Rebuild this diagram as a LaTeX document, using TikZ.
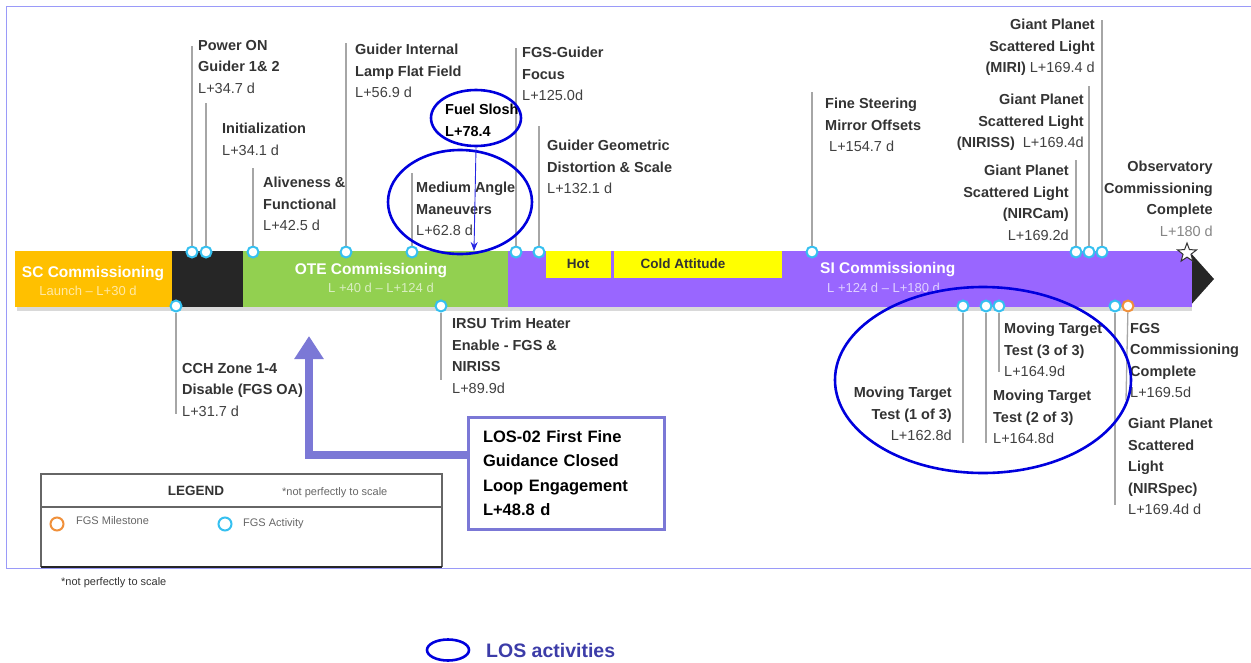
\documentclass[tikz,border=0pt]{standalone}
\usepackage{fontspec}
\setmainfont{Liberation Sans}
\usetikzlibrary{arrows.meta,shapes.geometric}
\definecolor{scyellow}{HTML}{FFC000}
\definecolor{barblack}{HTML}{262626}
\definecolor{otegreen}{HTML}{92D050}
\definecolor{sipurple}{HTML}{9966FF}
\definecolor{hotyellow}{HTML}{FFFF00}
\definecolor{cyanc}{HTML}{35C0F0}
\definecolor{orangec}{HTML}{F0903A}
\definecolor{losblue}{HTML}{0000DD}
\definecolor{boxpurple}{HTML}{7B78D6}
\definecolor{framec}{HTML}{9A9AF8}
\definecolor{titlegray}{HTML}{333333}
\definecolor{valgray}{HTML}{404040}
\definecolor{lightval}{HTML}{858585}
\definecolor{legtext}{HTML}{666666}
\definecolor{losword}{HTML}{3C3CA8}
\newcommand{\lv}[1]{{\mdseries\color{valgray}#1}}
\begin{document}
\begin{tikzpicture}[x=1pt,y=-1pt,
  lbl/.style={inner sep=0pt, font=\fontsize{14.5}{21.5}\selectfont\bfseries, text=titlegray, align=left, anchor=north west},
  lblr/.style={lbl, align=right, anchor=north east},
  act/.style={circle, draw=cyanc, line width=2pt, fill=white, minimum size=11pt, inner sep=0pt},
  mile/.style={circle, draw=orangec, line width=2pt, fill=white, minimum size=11pt, inner sep=0pt},
  vline/.style={draw=black!35, line width=1.3pt},
  bartitle/.style={inner sep=0pt, font=\fontsize{15.5}{18}\selectfont\bfseries, text=white},
  barsub/.style={inner sep=0pt, font=\fontsize{13}{16}\selectfont},
  phase/.style={inner sep=0pt, font=\fontsize{13.5}{16}\selectfont\bfseries, text=titlegray},
  losring/.style={draw=losblue, line width=2.6pt, ellipse, inner sep=0pt},
  legsmall/.style={inner sep=0pt, font=\fontsize{11}{13}\selectfont, text=legtext, anchor=north west}
]
\useasboundingbox (0,0) rectangle (1251,662);
% frame
\draw[framec, line width=1pt] (1251,6) -- (6,6) -- (6,568) -- (1251,568);

% bar shadow
\fill[black!15] (17,307) rectangle (1192,311);
% bar
\fill[scyellow] (15,251) rectangle (172,307);
\fill[barblack] (172,251) rectangle (243,307);
\fill[otegreen] (243,251) rectangle (508,307);
\fill[barblack] (1189,251) -- (1214,279) -- (1189,307) -- cycle;
\fill[sipurple] (508,251) rectangle (1192,307);
\fill[hotyellow] (546,251) rectangle (611,278);
\fill[hotyellow] (614,251) rectangle (782,278);

\node[phase] (hot) at (578,264) {Hot};
\node[phase] (cold) at (683,264) {Cold Attitude};

\node[bartitle, anchor=north] (sct) at (93,266) {SC Commissioning};
\node[barsub, anchor=north, text=scyellow!35!white] (scs) at (88,286) {Launch – L+30 d};
\node[bartitle, anchor=north] (otet) at (371,263) {OTE Commissioning};
\node[barsub, anchor=north, text=otegreen!35!white] (otes) at (381,283) {L +40 d – L+124 d};
\node[bartitle, anchor=north west] (sit) at (820,262) {SI Commissioning};
\node[barsub, anchor=north west, text=sipurple!30!white] (sis) at (827,283) {L +124 d – L+180 d};

\node[star, star points=5, star point ratio=2.4, draw=black!80, line width=1pt, fill=white, minimum size=20pt, inner sep=0pt] (obsstar) at (1187,253) {};

% top markers
\foreach \n/\x/\e in {a/192/46, b/206/103, c/253/168, d/346/43, e/412/173, f/516/48, g/539/126, h/812/92, i/1076/160, j/1089/86, k/1102/20}{
  \node[act] (t\n) at (\x,252) {};
  \coordinate (t\n e) at (\x,\e);
  \draw[vline] (t\n) -- (t\n e);
}
% bottom markers
\foreach \n/\x/\e in {a/176/414, b/441/380, c/963/443, d/986/443, e/999/372, f/1115/505}{
  \node[act] (b\n) at (\x,306) {};
  \coordinate (b\n e) at (\x,\e);
  \draw[vline] (b\n) -- (b\n e);
}
\node[mile] (bg) at (1128,306) {};
\coordinate (bge) at (1126,400);
\draw[vline] (bg) -- (bge);

% top labels
\node[lbl] (l1) at (198,40) {Power ON\\Guider 1\& 2\\\lv{L+34.7 d}};
\node[lbl] (l2) at (222,123) {Initialization\\\lv{L+34.1 d}};
\node[lbl] (l3) at (263,177) {Aliveness \&\\Functional\\\lv{L+42.5 d}};
\node[lbl] (l4) at (355,44) {Guider Internal\\Lamp Flat Field\\\lv{L+56.9 d}};
\node[lbl] (l5) at (416,182) {Medium Angle\\Maneuvers\\\lv{L+62.8 d}};
\node[lbl, text=black] (l6) at (445,104) {Fuel Slosh\\L+78.4};
\node[lbl] (l7) at (522,47) {FGS-Guider\\Focus\\\lv{L+125.0d}};
\node[lbl] (l8) at (547,140) {Guider Geometric\\Distortion \& Scale\\\lv{L+132.1 d}};
\node[lbl] (l9) at (825,98) {Fine Steering\\Mirror Offsets\\\hspace*{4pt}\lv{L+154.7 d}};
\node[lblr] (l10) at (1095,19) {Giant Planet\\Scattered Light\\(MIRI) \lv{L+169.4 d}};
\node[lblr] (l11) at (1084,94) {Giant Planet\\Scattered Light\\(NIRISS)\ \ \lv{L+169.4d}};
\node[lblr] (l12) at (1069,165) {Giant Planet\\Scattered Light\\(NIRCam)\\\lv{L+169.2d}};
\node[lblr] (l13) at (1213,161) {Observatory\\Commissioning\\Complete\\{\mdseries\color{lightval}L+180 d}};

% bottom labels
\node[lbl] (l14) at (182,363) {CCH Zone 1-4\\Disable (FGS OA)\\\lv{L+31.7 d}};
\node[lbl] (l15) at (452,318) {IRSU Trim Heater\\Enable - FGS \&\\NIRISS\\\lv{L+89.9d}};
\node[lbl] (l16) at (1004,323) {Moving Target\\Test (3 of 3)\\\lv{L+164.9d}};
\node[lblr] (l17) at (952,387) {Moving Target\\Test (1 of 3)\\\lv{L+162.8d}};
\node[lbl] (l18) at (993,390) {Moving Target\\Test (2 of 3)\\\lv{L+164.8d}};
\node[lbl] (l19) at (1130,323) {FGS\\Commissioning\\Complete\\\lv{L+169.5d}};
\node[lbl] (l20) at (1128,418) {Giant Planet\\Scattered\\Light\\(NIRSpec)\\\lv{L+169.4d d}};

% LOS rings
\node[losring, minimum width=90pt, minimum height=56pt] (fsring) at (476,118) {};
\node[losring, minimum width=144pt, minimum height=104pt] (maring) at (460,202) {};
\node[losring, minimum width=296pt, minimum height=186pt] (mtring) at (983,380) {};
\coordinate (fsend) at (474,251);
\draw[losblue!85!white, line width=0.9pt, -{Stealth[length=9pt,width=7pt]}] (fsring.south) -- (fsend);

% LOS-02 box and arrow
\node[draw=boxpurple, line width=3pt, fill=white, minimum width=196pt, minimum height=112pt, text width=166pt, align=left, inner sep=0pt,
      font=\fontsize{16.5}{24.5}\selectfont\bfseries, text=black] (los) at (566,473) {LOS-02 First Fine\\Guidance Closed\\Loop Engagement\\L+48.8 d};
\coordinate (fattip) at (309,336);
\draw[boxpurple, line width=8pt, -{Triangle[length=23pt,width=28pt]}] ([yshift=18pt]los.west) -| (fattip);

% legend
\draw[black!60, line width=1.5pt] (41,567) -- (41,474) -- (442,474) -- (442,567);
\draw[black!60, line width=1.5pt] (41,507) -- (442,507);
\draw[black!85, line width=2pt] (41,567) -- (442,567);
\node[inner sep=0pt, font=\fontsize{13.5}{16}\selectfont\bfseries, text=titlegray, anchor=north] (legt) at (196,486) {LEGEND};
\node[legsmall] (legn) at (282,487) {*not perfectly to scale};
\node[mile, minimum size=13pt] (legm) at (57,524) {};
\node[legsmall] (legmt) at (76,516) {FGS Milestone};
\node[act, minimum size=13pt] (lega) at (225,524) {};
\node[legsmall] (legat) at (243,518) {FGS Activity};
\node[legsmall, text=black!80] (scale) at (61,577) {*not perfectly to scale};

% LOS key
\node[losring, minimum width=42pt, minimum height=21pt] (loskey) at (448,650) {};
\node[inner sep=0pt, font=\fontsize{19.5}{22}\selectfont\bfseries, text=losword, anchor=west] (loskeyt) at (486,651) {LOS activities};
\end{tikzpicture}
\end{document}
